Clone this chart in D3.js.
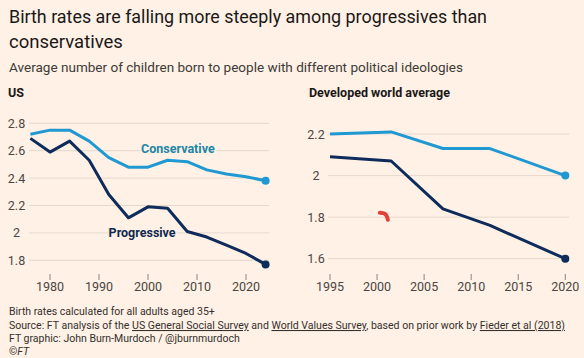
<!DOCTYPE html>
<html>
<head>
<meta charset="utf-8">
<script src="https://cdn.jsdelivr.net/npm/d3@7"></script>
<style>
  html, body { margin: 0; padding: 0; background: #fff1e5; }
  svg { display: block; font-family: Roboto, "Noto Sans", sans-serif; }
</style>
</head>
<body>
<div class="chart"></div>
<script>
// US (GSS), 4-year bins
var usYears = [1976, 1980, 1984, 1988, 1992, 1996, 2000, 2004, 2008, 2012, 2016, 2020, 2024]
var usConservative = [2.72, 2.75, 2.75, 2.67, 2.55, 2.48, 2.48, 2.53, 2.52, 2.46, 2.43, 2.41, 2.38]
var usProgressive  = [2.69, 2.59, 2.67, 2.53, 2.28, 2.11, 2.19, 2.18, 2.01, 1.97, 1.91, 1.85, 1.77]

// developed world average (WVS waves)
var worldYears = [1995, 2001.5, 2007, 2012, 2020]
var worldConservative = [2.20, 2.21, 2.13, 2.13, 2.00]
var worldProgressive  = [2.09, 2.07, 1.84, 1.76, 1.60]

var usYTicks = [1.8, 2, 2.2, 2.4, 2.6, 2.8]
var usXTicks = [1980, 1990, 2000, 2010, 2020]
var worldYTicks = [1.6, 1.8, 2, 2.2]
var worldXTicks = [1995, 2000, 2005, 2010, 2015, 2020]

// the stray red pen mark on the right panel
var strayMark = [[2000.3, 1.821], [2000.9, 1.814], [2001.15, 1.787]]

var colors = {cons: '#2099d3', prog: '#0d2b5b', consText: '#1d85a8', progText: '#0f2a50'}
var bg = '#fff1e5'

var W = 584, H = 358
var svg = d3.select('.chart').append('svg').attr('width', W).attr('height', H)
svg.append('rect').attr('width', W).attr('height', H).attr('fill', bg)

// heading
svg.append('text').text('Birth rates are falling more steeply among progressives than')
  .attr('x', 9).attr('y', 23).attr('font-size', 18.5).attr('fill', '#1a1817')
  .attr('textLength', 478).attr('lengthAdjust', 'spacingAndGlyphs')
svg.append('text').text('conservatives')
  .attr('x', 9).attr('y', 48).attr('font-size', 18.5).attr('fill', '#1a1817')
svg.append('text').text('Average number of children born to people with different political ideologies')
  .attr('x', 9).attr('y', 72).attr('font-size', 13).attr('fill', '#3d3a38')
  .attr('textLength', 454).attr('lengthAdjust', 'spacingAndGlyphs')

function panel(o){
  var x = d3.scaleLinear().domain(o.xDom).range(o.xRange)
  var y = d3.scaleLinear().domain(o.yDom).range(o.yRange)
  var g = svg.append('g')

  g.append('text').text(o.title)
    .attr('x', o.titleX).attr('y', 97)
    .attr('font-size', 12.5).attr('font-weight', 700).attr('fill', '#1a1817')

  g.selectAll('line.grid').data(o.yTicks).join('line')
    .attr('x1', o.gridX[0]).attr('x2', o.gridX[1])
    .attr('y1', d => y(d)).attr('y2', d => y(d))
    .attr('stroke', '#e6d8cc').attr('stroke-width', 1)

  g.selectAll('text.ylab').data(o.yTicks).join('text')
    .text(d => d3.format('~g')(d))
    .attr('x', o.yLabX).attr('y', d => y(d) + 4.5)
    .attr('text-anchor', 'middle').attr('font-size', 12.5).attr('fill', '#4a4643')

  g.selectAll('line.tick').data(o.xTicks).join('line')
    .attr('x1', d => x(d)).attr('x2', d => x(d))
    .attr('y1', 274).attr('y2', 280)
    .attr('stroke', '#8a8480').attr('stroke-width', 1)

  g.selectAll('text.xlab').data(o.xTicks).join('text')
    .text(d => d)
    .attr('x', d => x(d)).attr('y', 291)
    .attr('text-anchor', 'middle').attr('font-size', 12.5).attr('fill', '#4a4643')

  var line = d3.line().x(d => x(d[0])).y(d => y(d[1]))
  var series = [
    {vals: o.cons, color: colors.cons},
    {vals: o.prog, color: colors.prog}
  ]
  series.forEach(s => {
    var pts = o.years.map((yr, i) => [yr, s.vals[i]])
    g.append('path').datum(pts)
      .attr('d', line).attr('fill', 'none')
      .attr('stroke', s.color).attr('stroke-width', 3)
      .attr('stroke-linejoin', 'round')
    var last = pts[pts.length - 1]
    g.append('circle')
      .attr('cx', x(last[0])).attr('cy', y(last[1])).attr('r', 4)
      .attr('fill', s.color)
  })

  return {x, y, g}
}

var us = panel({
  title: 'US', titleX: 8,
  xDom: [1980, 2020], xRange: [50, 246],
  yDom: [1.8, 2.8], yRange: [260.3, 123.3],
  gridX: [29, 269], yLabX: 16.5,
  yTicks: usYTicks, xTicks: usXTicks,
  years: usYears, cons: usConservative, prog: usProgressive
})

var world = panel({
  title: 'Developed world average', titleX: 309,
  xDom: [1995, 2020], xRange: [330, 565.3],
  yDom: [1.6, 2.2], yRange: [258.7, 134],
  gridX: [328, 569], yLabX: 316,
  yTicks: worldYTicks, xTicks: worldXTicks,
  years: worldYears, cons: worldConservative, prog: worldProgressive
})

// direct labels on the US panel
var labels = [
  {text: 'Conservative', year: 2006.1, val: 2.585, color: colors.consText},
  {text: 'Progressive', year: 1998.8, val: 1.97, color: colors.progText}
]
us.g.selectAll('text.lab').data(labels).join('text')
  .text(d => d.text)
  .attr('x', d => us.x(d.year)).attr('y', d => us.y(d.val))
  .attr('text-anchor', 'middle').attr('font-size', 12.5).attr('font-weight', 700)
  .attr('fill', d => d.color)
  .attr('stroke', bg).attr('stroke-width', 3).attr('paint-order', 'stroke')

world.g.append('path').datum(strayMark)
  .attr('d', d3.line().curve(d3.curveNatural).x(d => world.x(d[0])).y(d => world.y(d[1])))
  .attr('fill', 'none').attr('stroke', '#e0423b').attr('stroke-width', 4)
  .attr('stroke-linecap', 'round')

// footer
var foot = svg.append('g').attr('font-size', 10.5).attr('fill', '#33302e')
foot.append('text').text('Birth rates calculated for all adults aged 35+').attr('x', 9).attr('y', 315)

var src = foot.append('text').attr('x', 9).attr('y', 329)
  .attr('textLength', 556).attr('lengthAdjust', 'spacingAndGlyphs')
var parts = [
  ['Source: FT analysis of the ', false],
  ['US General Social Survey', true],
  [' and ', false],
  ['World Values Survey', true],
  [', based on prior work by ', false],
  ['Fieder et al (2018)', true]
]
parts.forEach(p => {
  src.append('tspan').text(p[0]).attr('text-decoration', p[1] ? 'underline' : null)
})

foot.append('text').text('FT graphic: John Burn-Murdoch / @jburnmurdoch').attr('x', 9).attr('y', 342)
var cr = foot.append('text').attr('x', 9).attr('y', 355)
cr.append('tspan').text('©')
cr.append('tspan').text('FT').attr('font-style', 'italic')
</script>
</body>
</html>
